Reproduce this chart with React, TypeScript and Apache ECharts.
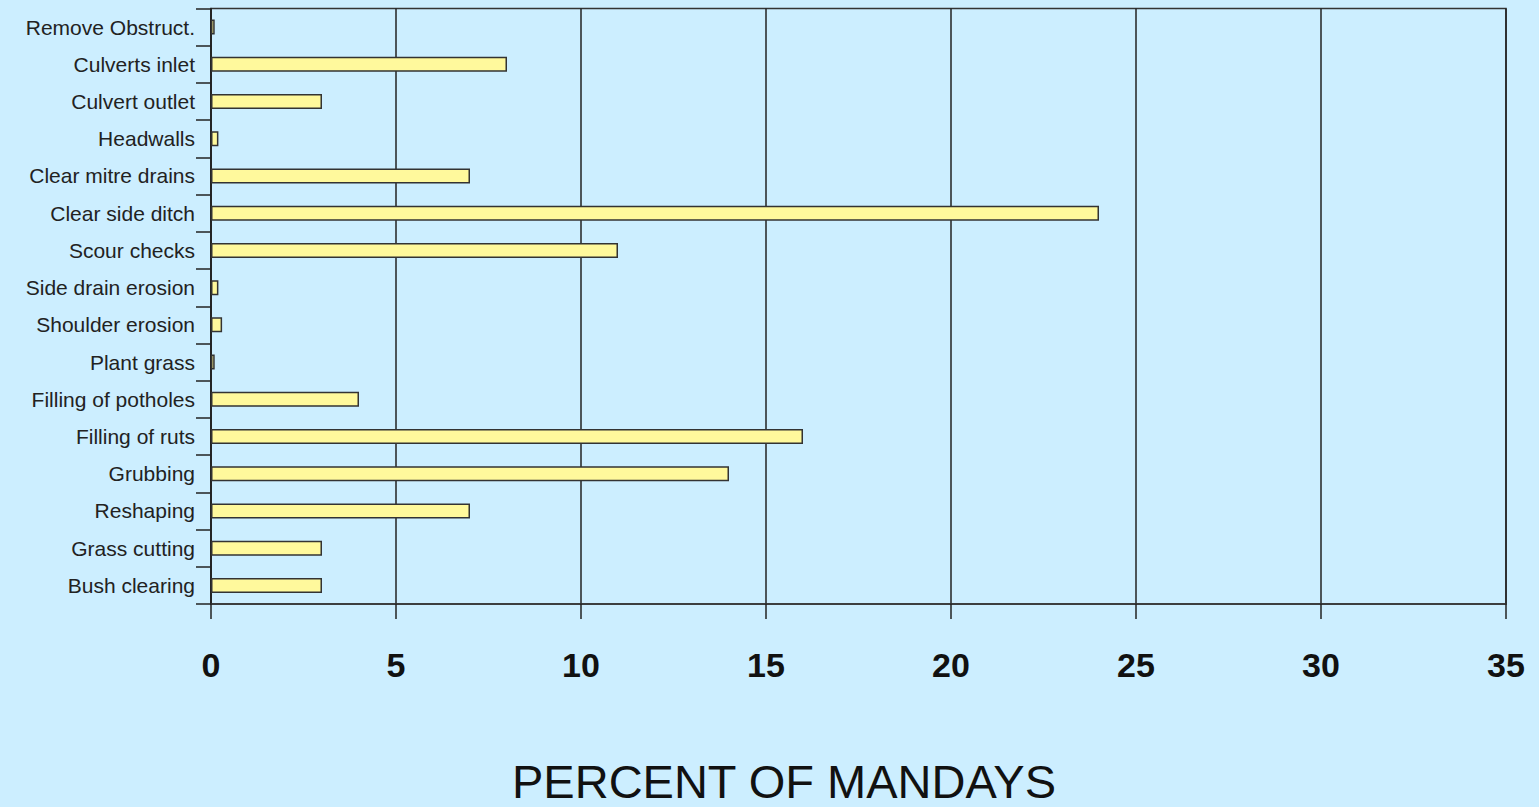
import React, { useEffect, useRef } from "react";
import * as echarts from "echarts";

const categories = [
  "Remove Obstruct.",
  "Culverts inlet",
  "Culvert outlet",
  "Headwalls",
  "Clear mitre drains",
  "Clear side ditch",
  "Scour checks",
  "Side drain erosion",
  "Shoulder erosion",
  "Plant grass",
  "Filling of potholes",
  "Filling of ruts",
  "Grubbing",
  "Reshaping",
  "Grass cutting",
  "Bush clearing",
];

const percentValues = [0.1, 8, 3, 0.2, 7, 24, 11, 0.2, 0.3, 0.1, 4, 16, 14, 7, 3, 3];

const axisTitle = "PERCENT OF MANDAYS";
const xMin = 0;
const xMax = 35;
const xStep = 5;

export default function App() {
  const ref = useRef<HTMLDivElement>(null);

  useEffect(() => {
    document.body.style.margin = "0";
    document.body.style.background = "#CCEEFF";
    if (!ref.current) return;
    const chart = echarts.init(ref.current, undefined, { renderer: "svg" });
    chart.setOption({
      animation: false,
      backgroundColor: "#CCEEFF",
      title: {
        text: axisTitle,
        left: 512,
        top: 758,
        padding: 0,
        textStyle: {
          fontFamily: "Liberation Sans, Arial, sans-serif",
          fontSize: 47,
          fontWeight: "normal",
          color: "#111",
        },
      },
      grid: {
        left: 211,
        right: 33,
        top: 8.5,
        bottom: 203,
        outerBoundsMode: "none",
        containLabel: false,
        show: true,
        borderColor: "#333",
        borderWidth: 1.5,
        backgroundColor: "transparent",
      },
      xAxis: {
        type: "value",
        min: xMin,
        max: xMax,
        interval: xStep,
        axisLine: { show: true, lineStyle: { color: "#333", width: 1.5 } },
        axisTick: { show: true, length: 15, inside: false, lineStyle: { color: "#222", width: 1.5 } },
        axisLabel: {
          margin: 44,
          fontFamily: "Liberation Sans, Arial, sans-serif",
          fontSize: 34,
          fontWeight: "bold",
          color: "#111",
        },
        splitLine: { show: true, lineStyle: { color: "#222", width: 1.5 } },
      },
      yAxis: {
        type: "category",
        data: categories,
        inverse: true,
        axisLine: { show: true, lineStyle: { color: "#222", width: 1.5 } },
        axisTick: { show: true, length: 15, lineStyle: { color: "#222", width: 1.5 } },
        axisLabel: {
          margin: 16,
          fontFamily: "Liberation Sans, Arial, sans-serif",
          fontSize: 21,
          color: "#222",
          interval: 0,
        },
        splitLine: { show: false },
      },
      series: [
        {
          type: "bar",
          data: percentValues,
          barWidth: 15,
          itemStyle: {
            color: "#FFF99C",
            borderColor: "#333",
            borderWidth: 1.5,
          },
        },
      ],
    });
    return () => chart.dispose();
  }, []);

  return <div ref={ref} style={{ width: 1539, height: 807 }} />;
}
